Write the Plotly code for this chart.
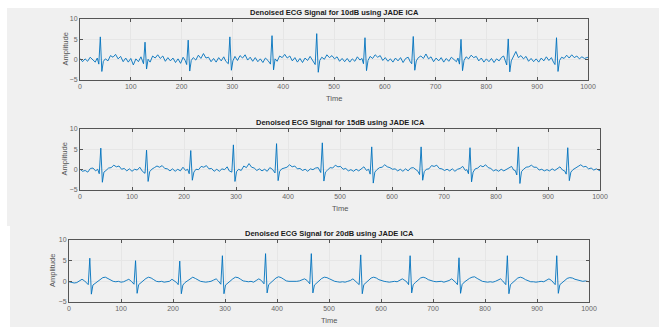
import plotly.graph_objects as go

W, H = 659, 328

# Shared time grid (samples)
time = (
    [0, 5, 10, 15, 20, 25, 30, 34, 37, 40, 43, 46, 50, 55, 60, 65, 70, 75, 80, 85]
    + [90, 95, 100, 105, 110, 115, 120, 125, 128, 131, 134, 138, 143, 148, 153, 158, 163, 168, 173]
    + [178, 183, 188, 193, 198, 203, 207, 210, 213, 216, 219, 223, 228, 233, 238, 243, 248, 253, 258]
    + [263, 268, 273, 278, 283, 287, 292, 295, 298, 301, 305, 310, 315, 320, 325, 330, 335, 340]
    + [345, 350, 355, 360, 365, 370, 375, 378, 381, 384, 388, 393, 398, 403, 408, 413, 418, 423, 428]
    + [433, 438, 443, 448, 453, 458, 463, 466, 469, 472, 476, 481, 486, 491, 496, 501, 506, 511, 516]
    + [521, 526, 531, 536, 541, 546, 551, 555, 558, 561, 564, 567, 571, 576, 581, 586, 591, 596, 601, 606, 611]
    + [616, 621, 626, 631, 636, 641, 646, 650, 653, 656, 659, 662, 666, 671, 676, 681, 686, 691, 696, 701, 706]
    + [711, 716, 721, 726, 731, 736, 741, 744, 747, 750, 753, 756, 760, 765, 770, 775, 780, 785, 790, 795, 800]
    + [805, 810, 815, 820, 825, 830, 834, 837, 840, 843, 846, 849, 853, 858, 863, 868, 873, 878, 883, 888, 893]
    + [898, 903, 908, 913, 918, 923, 928, 932, 935, 938, 941, 944, 948, 953, 958, 963, 968, 973, 978, 983, 988, 993, 1000]
)

amp_10db = (
    [0.3, -0.5, 0.2, -0.4, 0.6, 0.1, -0.6, 0.4, -1.1, 5.6, -2.9, -0.4, 0.2, -0.3, 1.0, 0.6, 1.3, 0.2, 0.8, -0.5]
    + [0.4, -0.6, 0.3, -1.3, 0.2, -0.5, 0.7, -1.0, 4.3, -2.3, 0.1, -0.6, 0.9, 0.4, 1.2, 0.3, 0.9, -0.4, 0.5]
    + [-0.3, 0.4, -0.7, 0.2, -0.9, 0.6, -0.2, -1.2, 4.8, -2.8, -0.2, 0.5, -0.1, 1.1, 0.3, 1.5, 0.4, 0.6, -0.5]
    + [0.3, -0.6, 0.5, -0.3, 0.7, -0.4, -1.0, 5.6, -2.6, -0.3, 0.8, -0.2, 1.0, 0.4, 1.2, -0.1, 0.6, -0.4]
    + [0.5, -0.5, 0.2, -0.7, 0.4, -0.2, -1.1, 5.9, -2.5, 0.2, -0.4, 0.9, 0.5, 1.3, 0.4, 0.9, -0.3, 0.5, -0.6]
    + [0.3, -0.7, 0.4, -0.2, 0.8, -0.3, -1.2, 6.4, -3.1, -0.2, 0.6, 0.1, 1.2, 0.5, 1.0, 0.2, 0.7, -0.4, 0.3]
    + [-0.5, 0.3, -0.6, 0.2, -0.4, 0.7, -0.1, 0.3, -1.0, 5.4, -2.7, -0.2, 0.8, 0.3, 1.2, 0.6, 1.0, -0.2, 0.5, -0.4, 0.2]
    + [-0.6, 0.4, -0.3, 0.5, -0.7, 0.3, 0.6, -0.5, -1.0, 5.7, -2.6, -0.3, 0.5, 0.9, 0.3, 1.4, 0.2, 0.7, -0.5, 0.4, -0.3]
    + [0.5, -0.6, 0.3, -0.4, 0.6, 0.1, -0.5, 0.4, -1.1, 5.0, -2.7, -0.2, 0.7, 0.2, 1.1, 0.5, 0.8, -0.3, 0.4, -0.6, 0.2]
    + [-0.5, 0.3, -0.7, 0.2, -0.3, 0.6, 0.9, -0.4, -1.3, 5.1, -3.0, -0.3, 0.6, 2.0, 0.5, 1.0, 0.2, 0.8, -0.4, 0.3, -0.5]
    + [0.2, -0.6, 0.4, -0.3, 0.7, -0.2, 0.5, -0.6, -1.2, 5.4, -2.9, -0.2, 0.6, 0.3, 1.1, 0.4, 1.2, 0.5, 0.9, 0.2, 0.7, 0.3, 0.6]
)

amp_15db = (
    [0.1, -0.4, -0.2, -0.6, 0.3, 0.4, -0.3, 0.1, -1.0, 5.3, -3.1, -0.6, -0.2, 0.4, 0.5, 1.1, 0.7, 0.9, 0.1, 0.3]
    + [-0.3, 0.2, -0.4, 0.1, -0.1, 0.6, -0.4, -0.9, 4.8, -2.9, -0.5, 0.1, 0.5, 0.9, 0.6, 1.0, 0.3, 0.2, -0.3]
    + [0.2, -0.4, 0.1, -0.3, 0.6, -0.2, 0.1, -1.0, 4.7, -2.6, -0.6, 0.1, 0.0, 0.8, 0.6, 1.0, 0.2, 0.3, -0.4]
    + [0.1, -0.4, 0.2, 0.0, 0.7, -0.3, -0.6, 6.1, -2.9, -0.5, 0.1, -0.2, 0.9, 0.5, 1.5, 0.6, 0.4, -0.2]
    + [0.2, -0.3, 0.1, -0.4, 0.5, 0.1, -0.8, 6.4, -2.7, -0.4, 0.2, 0.5, 0.6, 1.2, 0.7, 0.9, 0.2, 0.3, -0.2]
    + [0.1, -0.4, 0.2, 0.0, 0.4, 0.5, -0.7, 6.6, -2.8, -0.6, -0.1, 0.5, 0.4, 1.1, 0.7, 0.8, 0.1, 0.3, -0.3]
    + [0.0, -0.4, 0.1, -0.3, 0.3, 0.7, -0.2, 0.1, -1.1, 5.6, -3.3, -0.6, 0.0, 0.5, 0.6, 1.2, 0.7, 0.5, 0.1, 0.2, -0.3]
    + [0.1, -0.4, 0.2, -0.3, 0.4, 0.5, 0.0, -0.4, -1.2, 5.6, -2.6, -0.5, 0.1, 0.2, 1.0, 0.8, 1.1, 0.3, 0.2, -0.2, 0.1]
    + [-0.3, 0.2, -0.4, 0.1, 0.3, 0.8, -0.2, 0.0, -1.0, 5.4, -3.0, -0.6, 0.2, 0.4, 1.0, 0.7, 1.2, 0.5, 0.3, -0.3, 0.0]
    + [-0.4, 0.1, -0.3, 0.0, 0.5, 0.8, -0.1, -0.2, -1.3, 5.6, -3.4, -0.5, 0.1, 0.6, 0.7, 1.1, 0.6, 0.6, -0.1, 0.1, -0.3]
    + [0.0, -0.3, 0.2, -0.2, 0.3, 0.7, -0.1, -0.3, -1.1, 5.4, -2.7, -0.6, 0.0, 0.5, 0.8, 1.2, 0.7, 0.8, 0.2, 0.4, -0.1, 0.2, -0.3]
)

amp_20db = (
    [-0.1, -0.2, -0.4, -0.3, 0.0, 0.5, 0.1, -0.4, -0.8, 5.6, -3.1, -0.9, -0.5, 0.0, 0.6, 0.9, 1.0, 0.6, 0.2, 0.0]
    + [-0.1, 0.0, -0.2, -0.1, 0.2, 0.5, 0.0, -0.7, 5.0, -2.9, -0.8, -0.3, 0.2, 0.7, 1.0, 0.8, 0.4, 0.0, -0.1]
    + [0.0, -0.2, -0.1, 0.0, 0.5, 0.1, -0.3, -0.8, 4.9, -3.0, -0.9, -0.3, 0.2, 0.6, 1.0, 0.7, 0.3, 0.0, -0.1]
    + [-0.2, -0.1, 0.0, 0.3, 0.6, 0.1, -0.7, 6.2, -3.0, -0.9, -0.4, 0.1, 0.6, 1.0, 0.9, 0.5, 0.1, 0.0]
    + [-0.1, 0.0, -0.2, 0.2, 0.6, 0.2, -0.6, 6.7, -2.8, -0.8, -0.3, 0.3, 0.8, 1.1, 0.9, 0.5, 0.1, 0.0, 0.0]
    + [-0.1, 0.0, 0.1, 0.3, 0.6, 0.2, -0.6, 6.7, -2.8, -0.9, -0.4, 0.2, 0.7, 1.0, 0.9, 0.6, 0.2, 0.0, -0.1]
    + [-0.2, -0.1, -0.2, 0.0, 0.2, 0.6, 0.1, -0.3, -0.8, 6.4, -3.0, -0.8, -0.3, 0.3, 0.8, 1.0, 0.8, 0.4, 0.1, 0.0, -0.1]
    + [-0.2, -0.1, 0.0, -0.1, 0.2, 0.6, 0.2, -0.2, -0.8, 6.2, -2.8, -0.8, -0.3, 0.3, 0.8, 1.0, 0.8, 0.4, 0.1, 0.0, -0.1]
    + [-0.1, 0.0, -0.2, 0.0, 0.2, 0.6, 0.1, -0.3, -0.8, 5.7, -2.9, -0.8, -0.2, 0.3, 0.7, 1.0, 1.1, 0.7, 0.3, 0.0, -0.1]
    + [-0.2, -0.1, -0.2, 0.0, 0.3, 0.6, 0.1, -0.3, -0.8, 6.2, -3.0, -0.8, -0.3, 0.3, 0.8, 1.0, 0.8, 0.4, 0.1, -0.1, -0.1]
    + [-0.2, -0.1, 0.0, -0.1, 0.2, 0.6, 0.2, -0.3, -0.8, 6.2, -2.9, -0.8, -0.3, 0.2, 0.7, 0.9, 0.8, 0.5, 0.3, 0.1, 0.0, 0.1, -0.1]
)

assert len(time) == len(amp_10db) == len(amp_15db) == len(amp_20db)

titles = [
    "Denoised ECG Signal for 10dB using JADE ICA",
    "Denoised ECG Signal for 15dB using JADE ICA",
    "Denoised ECG Signal for 20dB using JADE ICA",
]
x_ticks = [0, 100, 200, 300, 400, 500, 600, 700, 800, 900, 1000]
y_ticks = [-5, 0, 5, 10]
x_label = "Time"
y_label = "Amplitude"

# pixel boxes of each axes: (left, right, top, bottom)
boxes = [(80, 588, 19, 80), (80, 600, 129, 190), (69, 589, 240, 302)]
ylab_x = [65, 64, 52]

FONT = "Liberation Sans, Arial, sans-serif"
LINE = "#0072BD"
AX = "#555555"

fig = go.Figure()
series = [amp_10db, amp_15db, amp_20db]
for i, amp in enumerate(series):
    sfx = "" if i == 0 else str(i + 1)
    fig.add_trace(go.Scatter(x=time, y=amp, mode="lines",
                             line=dict(color=LINE, width=0.9),
                             xaxis="x" + sfx, yaxis="y" + sfx,
                             showlegend=False, hoverinfo="skip"))

layout = dict(
    width=W, height=H, autosize=False,
    margin=dict(l=0, r=0, t=0, b=0),
    paper_bgcolor="white", plot_bgcolor="white",
    font=dict(family=FONT, size=7, color="#404040"),
    shapes=[], annotations=[],
)

for i, (l, r, t, b) in enumerate(boxes):
    sfx = "" if i == 0 else str(i + 1)
    common = dict(showline=True, linecolor=AX, linewidth=1, mirror="ticks",
                  ticks="inside", ticklen=3, tickcolor=AX, tickwidth=1,
                  showgrid=True, gridcolor="#e6e6e6", gridwidth=1, automargin=False,
                  zeroline=False, tickfont=dict(size=7, color="#666666", family=FONT))
    layout["xaxis" + sfx] = dict(domain=[l / W, r / W], range=[0, 1000],
                                 tickvals=x_ticks, anchor="y" + sfx, **common)
    layout["yaxis" + sfx] = dict(domain=[1 - b / H, 1 - t / H], range=[-5, 10],
                                 tickvals=y_ticks, anchor="x" + sfx, **common)
    layout["annotations"].append(dict(
        text="<b>" + titles[i] + "</b>", x=(l + r) / 2 / W, y=1 - (t - 7) / H,
        xref="paper", yref="paper", showarrow=False, xanchor="center", yanchor="middle",
        font=dict(size=7.5, color="#1a1a1a", family=FONT)))
    layout["annotations"].append(dict(
        text=x_label, x=(l + r) / 2 / W, y=1 - (b + 18) / H,
        xref="paper", yref="paper", showarrow=False, xanchor="center", yanchor="middle",
        font=dict(size=7.5, color="#555555", family=FONT)))
    layout["annotations"].append(dict(
        text=y_label, x=ylab_x[i] / W, y=1 - (t + b) / 2 / H, textangle=-90,
        xref="paper", yref="paper", showarrow=False, xanchor="center", yanchor="middle",
        font=dict(size=7.5, color="#555555", family=FONT)))

# grey figure backgrounds of the MATLAB windows
layout["shapes"] = [
    dict(type="rect", xref="paper", yref="paper", x0=7 / W, x1=1, y0=1 - 226 / H, y1=1 - 8 / H,
         fillcolor="#f0f0f0", line=dict(width=0), layer="below"),
    dict(type="rect", xref="paper", yref="paper", x0=10 / W, x1=1, y0=1 - 327 / H, y1=1 - 226 / H,
         fillcolor="#f0f0f0", line=dict(width=0), layer="below"),
]

fig.update_layout(**layout)
fig.write_html("out.html", config={"displayModeBar": False, "staticPlot": True},
               post_script="document.body.style.margin='0';document.body.style.overflow='hidden';")
